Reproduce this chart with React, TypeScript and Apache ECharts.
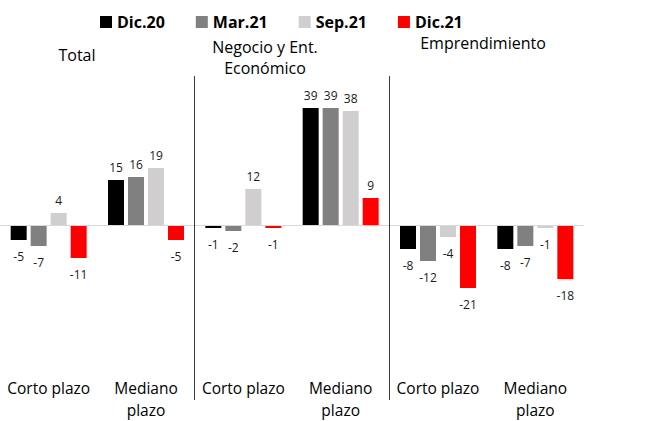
import React, { useEffect, useRef } from "react";
import * as echarts from "echarts";

const categories = ["Corto plazo", "Mediano\nplazo", "Corto plazo", "Mediano\nplazo", "Corto plazo", "Mediano\nplazo"];
const panels = ["Total", "Negocio y Ent.\nEconómico", "Emprendimiento"];
const separatorsAt = [2, 4];
const seriesNames = ["Dic.20", "Mar.21", "Sep.21", "Dic.21"];
const dic20 = [-5, 15, -1, 39, -8, -8];
const mar21 = [-7, 16, -2, 39, -12, -7];
const sep21 = [4, 19, 12, 38, -4, -1];
const dic21 = [-11, -5, -1, 9, -21, -18];
const colors = ["#000000", "#808080", "#d0cece", "#ff0000"];

const FONT = "Open Sans";

export default function App() {
  const ref = useRef<HTMLDivElement>(null);
  useEffect(() => {
    if (!ref.current) return;
    const chart = echarts.init(ref.current, null, { renderer: "svg" });
    const all = [dic20, mar21, sep21, dic21];
    const series: any[] = all.map((vals, i) => ({
      name: seriesNames[i],
      type: "bar",
      xAxisIndex: 0,
      yAxisIndex: 0,
      barWidth: 16,
      barGap: "25%",
      itemStyle: { color: colors[i] },
      data: vals.map((v) => ({
        value: v,
        label: {
          show: true,
          position: v < 0 ? "bottom" : "top",
          distance: v < 0 ? 10 : 7,
        },
      })),
      label: { show: true, fontSize: 12, color: "#1a1a1a", fontFamily: FONT },
      markLine:
        i === 0
          ? {
              silent: true,
              symbol: "none",
              label: { show: false },
              lineStyle: { color: "#d9d9d9", width: 1, type: "solid" },
              data: [{ yAxis: 0 }],
            }
          : undefined,
    }));
    series.push({
      name: "separators",
      type: "line",
      xAxisIndex: 1,
      yAxisIndex: 1,
      data: [],
      markLine: {
        silent: true,
        symbol: "none",
        label: { show: false },
        lineStyle: { color: "#3a3a3a", width: 1, type: "solid" },
        data: separatorsAt.map((x) => ({ xAxis: x })),
      },
    });
    const titlePos = [
      { x: 77, y: 55 },
      { x: 265, y: 57 },
      { x: 483, y: 43 },
    ];
    chart.setOption({
      animation: false,
      textStyle: { fontFamily: FONT },
      legend: {
        data: seriesNames,
        left: 95,
        top: 9,
        icon: "rect",
        itemWidth: 12,
        itemHeight: 12,
        itemGap: 31,
        textStyle: { fontSize: 16, fontWeight: "bold", color: "#000", fontFamily: FONT },
      },
      grid: [
        { left: 0, width: 584, top: 90, bottom: 40 },
        { left: 0, width: 584, top: 76, bottom: 21 },
      ],
      xAxis: [
        {
          type: "category",
          gridIndex: 0,
          data: categories,
          axisLine: { show: false, onZero: false },
          axisTick: { show: false },
          axisLabel: { fontSize: 15.5, color: "#000", margin: 2, lineHeight: 22, fontFamily: FONT, interval: 0 },
        },
        { type: "value", gridIndex: 1, min: 0, max: 6, show: false },
      ],
      yAxis: [
        { type: "value", gridIndex: 0, min: -50, max: 45, show: false },
        { type: "value", gridIndex: 1, min: 0, max: 1, show: false },
      ],
      graphic: panels.map((p, i) => ({
        type: "text",
        x: titlePos[i].x,
        y: titlePos[i].y,
        style: {
          text: p,
          fontSize: 16,
          fontFamily: FONT,
          fill: "#000",
          align: "center",
          verticalAlign: "middle",
          lineHeight: 21,
        },
      })),
      series,
    });
    return () => chart.dispose();
  }, []);
  return <div ref={ref} style={{ width: 654, height: 421, position: "absolute", left: 0, top: 0 }} />;
}
